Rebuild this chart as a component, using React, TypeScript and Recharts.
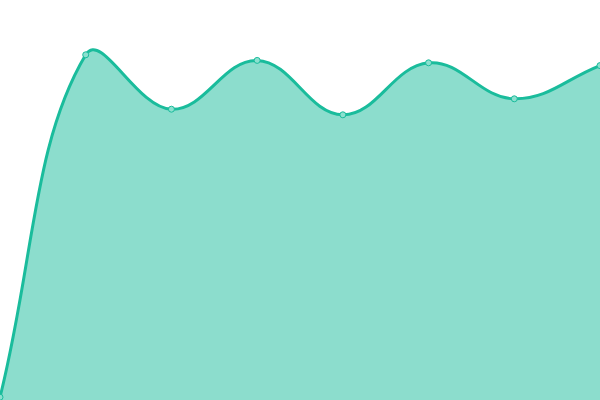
import { AreaChart, Area, XAxis, YAxis } from "recharts";

const labels = ["A", "B", "C", "D", "E", "F", "G", "H"];
const values = [0.7, 86.3, 72.7, 84.9, 71.3, 84.3, 75.3, 83.6];

const data = labels.map((label, i) => ({ label, value: values[i] }));

// tension spline (control points scaled by neighbour distances)
function tensionCurve(t: number) {
  return (context: any) => {
    let xs: number[] = [];
    let ys: number[] = [];
    let line = NaN;
    return {
      areaStart() {
        line = 0;
      },
      areaEnd() {
        line = NaN;
      },
      lineStart() {
        xs = [];
        ys = [];
      },
      lineEnd() {
        const n = xs.length;
        if (n > 0) {
          if (line) context.lineTo(xs[0], ys[0]);
          else context.moveTo(xs[0], ys[0]);
          const prevC: number[][] = [];
          const nextC: number[][] = [];
          for (let i = 0; i < n; i++) {
            const px = xs[Math.max(i - 1, 0)], py = ys[Math.max(i - 1, 0)];
            const nx = xs[Math.min(i + 1, n - 1)], ny = ys[Math.min(i + 1, n - 1)];
            const d01 = Math.hypot(xs[i] - px, ys[i] - py);
            const d12 = Math.hypot(nx - xs[i], ny - ys[i]);
            let s01 = d01 / (d01 + d12);
            let s12 = d12 / (d01 + d12);
            if (isNaN(s01)) s01 = 0;
            if (isNaN(s12)) s12 = 0;
            const fa = t * s01;
            const fb = t * s12;
            prevC.push([xs[i] - fa * (nx - px), ys[i] - fa * (ny - py)]);
            nextC.push([xs[i] + fb * (nx - px), ys[i] + fb * (ny - py)]);
          }
          for (let i = 1; i < n; i++) {
            context.bezierCurveTo(
              nextC[i - 1][0], nextC[i - 1][1],
              prevC[i][0], prevC[i][1],
              xs[i], ys[i]
            );
          }
        }
        if (line || (line !== 0 && n === 1)) context.closePath();
        line = 1 - line;
      },
      point(x: number, y: number) {
        xs.push(+x);
        ys.push(+y);
      },
    };
  };
}

export default function App() {
  return (
    <div style={{ position: "absolute", left: 0, top: 0, width: 600, height: 400, background: "#fff" }}>
      <AreaChart width={600} height={400} data={data} margin={{ top: 0, right: 0, bottom: 0, left: 0 }}>
        <XAxis dataKey="label" hide />
        <YAxis domain={[0, 100]} hide />
        <Area
          type={tensionCurve(0.4) as any}
          dataKey="value"
          stroke="#1abc9c"
          strokeWidth={3}
          fill="#1abc9c"
          fillOpacity={0.5}
          dot={{ r: 3, fill: "#8ce0cf", stroke: "#1abc9c", strokeWidth: 1, fillOpacity: 1 }}
          activeDot={false}
          isAnimationActive={false}
        />
      </AreaChart>
    </div>
  );
}
